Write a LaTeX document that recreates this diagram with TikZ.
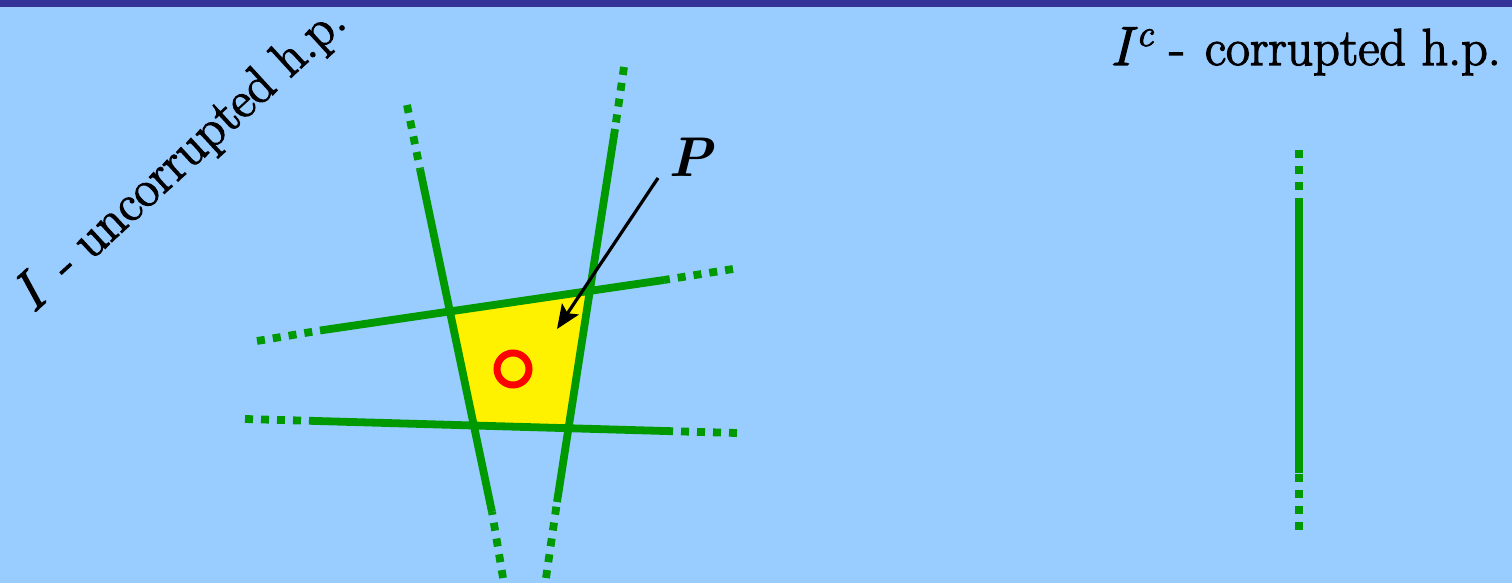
\documentclass[tikz,border=0pt]{standalone}
\usepackage{fontspec}
\usetikzlibrary{arrows.meta}
\newfontfamily\hpfont{lmroman17-regular.otf}[FakeBold=2.5]
\newfontfamily\hpit{lmroman12-italic.otf}[FakeBold=2.5]
\newfontfamily\hpbi{lmroman10-bolditalic.otf}
\definecolor{bgblue}{HTML}{99CCFF}
\definecolor{barblue}{HTML}{333399}
\definecolor{hpgreen}{HTML}{009900}
\tikzset{
  hpsolid/.style={draw=hpgreen, line width=7.8pt},
  hpdots/.style={draw=hpgreen, line width=7.8pt, dash pattern=on 8pt off 8pt},
  lbl/.style={inner sep=0pt, font=\fontsize{52}{52}\hpfont},
}
\newcommand{\supc}{\raisebox{19pt}{\fontsize{38}{38}\hpit c}}
\begin{document}
\begin{tikzpicture}[x=1pt,y=-1pt]
\useasboundingbox (0,0) rectangle (1512,583);
\fill[bgblue] (0,0) rectangle (1512,583);
\fill[barblue] (0,0) rectangle (1512,7);
% endpoints
\coordinate (A0) at (257,341); \coordinate (A1) at (320,330.5); \coordinate (A2) at (664,280); \coordinate (A3) at (733,269);
\coordinate (B0) at (245,419); \coordinate (B1) at (317,421); \coordinate (B2) at (665,431); \coordinate (B3) at (737,433);
\coordinate (C0) at (407,105); \coordinate (C1) at (420,169); \coordinate (C2) at (492,512); \coordinate (C3) at (503,578);
\coordinate (D0) at (624,67); \coordinate (D1) at (615,129); \coordinate (D2) at (557,502); \coordinate (D3) at (546,578);
\coordinate (E0) at (1299,150); \coordinate (E1) at (1299,198); \coordinate (E2) at (1299,473); \coordinate (E3) at (1299,530);
% feasible region
\fill[yellow] (intersection of A0--A3 and C0--C3) -- (intersection of A0--A3 and D0--D3)
  -- (intersection of B0--B3 and D0--D3) -- (intersection of B0--B3 and C0--C3) -- cycle;
% lines
\foreach \L in {A,B,C,D,E}{
  \draw[hpdots] (\L0) -- (\L1);
  \draw[hpsolid] (\L1) -- (\L2);
  \draw[hpdots] (\L3) -- (\L2);
}
% point
\node[draw=red, line width=7pt, circle, minimum size=32pt, inner sep=0pt] (pt) at (513,369) {};
% label P
\node[inner sep=0pt, anchor=base west, font=\fontsize{56}{56}\hpbi] (P) at (668,176) {P};
\coordinate (Pfoot) at (658,178);
\coordinate (Ptip) at (557,329);
\draw[line width=3.2pt, -{Stealth[length=24pt,width=20pt,inset=5pt]}] (Pfoot) -- (Ptip);
% texts
\node[lbl, anchor=base east] (Ic) at (1501,65) {{\fontsize{55}{55}\hpit I}\hspace{5pt}\supc\hspace{16pt}-\hspace{20pt}corrupted h.p.};
\node[lbl, anchor=base west, rotate=42.5] (I) at (33,314) {{\fontsize{55}{55}\hpit I}\hspace{27pt}-\hspace{15pt}uncorrupted h.p.};
\end{tikzpicture}
\end{document}
